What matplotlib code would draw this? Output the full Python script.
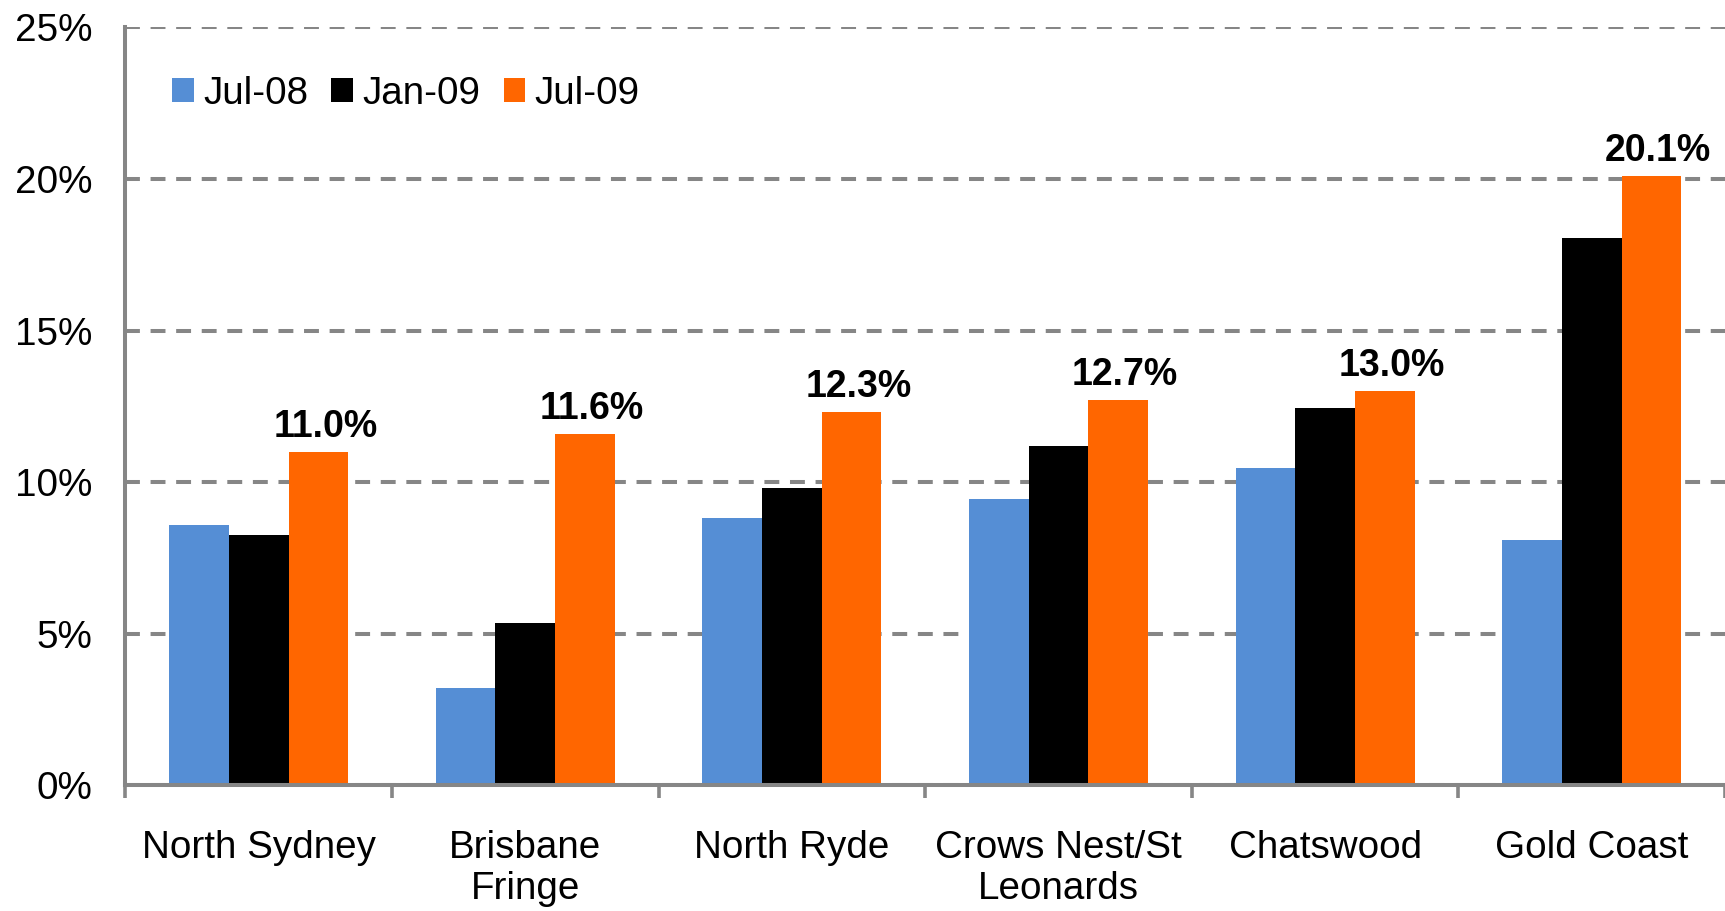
import matplotlib
matplotlib.use("Agg")
import matplotlib.pyplot as plt
import numpy as np

categories = ["North Sydney", "Brisbane\nFringe", "North Ryde", "Crows Nest/St\nLeonards", "Chatswood", "Gold Coast"]
series_names = ["Jul-08", "Jan-09", "Jul-09"]
jul08 = [8.6, 3.2, 8.8, 9.45, 10.45, 8.1]
jan09 = [8.25, 5.35, 9.8, 11.2, 12.45, 18.05]
jul09 = [11.0, 11.6, 12.3, 12.7, 13.0, 20.1]
colors = ["#558ED5", "#000000", "#FF6600"]
yticks = [0, 5, 10, 15, 20, 25]
ytick_labels = ["0%", "5%", "10%", "15%", "20%", "25%"]

plt.rcParams['font.family'] = ['Liberation Sans', 'DejaVu Sans']
fig = plt.figure(figsize=(17.25, 9.11), dpi=100)
ax = fig.add_axes([0.0727, 0.138, 0.9273, 0.832])

x = np.arange(len(categories))
w = 0.224
grey = "#868686"
fs = 27.8
for i, (vals, c, name) in enumerate(zip([jul08, jan09, jul09], colors, series_names)):
    ax.bar(x + (i - 1) * w, vals, width=w, color=c, label=name, zorder=3)

for xi, v in zip(x + w, jul09):
    ax.annotate(f"{v:.1f}%", (xi, v), xytext=(5, 5), textcoords="offset points",
                ha="center", va="bottom", fontsize=27, fontweight="bold", zorder=4)

ax.set_xlim(-0.5, len(categories) - 0.5)
ax.set_ylim(0, 25)
ax.set_yticks(yticks)
ax.set_yticklabels(ytick_labels, fontsize=fs)
ax.tick_params(axis='y', length=0, pad=24)

ax.set_xticks(np.arange(len(categories) + 1) - 0.5)
ax.set_xticklabels([])
ax.set_xticks(x, minor=True)
ax.set_xticklabels(categories, minor=True, fontsize=fs, linespacing=1.2)
ax.tick_params(axis='x', which='major', length=9, width=2.6, color=grey, direction='out')
ax.tick_params(axis='x', which='minor', length=0, pad=32)

ax.yaxis.grid(True, color=grey, linewidth=2.9, linestyle=(0, (3.7, 2.65)), zorder=0)
ax.set_axisbelow(True)
for s in ["top", "right"]:
    ax.spines[s].set_visible(False)
for s in ["left", "bottom"]:
    ax.spines[s].set_color(grey)
    ax.spines[s].set_linewidth(2.9)
ax.spines["bottom"].set_zorder(5)

ax.legend(loc="upper left", bbox_to_anchor=(0.0125, 0.972), ncol=3, frameon=False,
          fontsize=fs, handlelength=0.55, handleheight=0.55, handletextpad=0.25,
          columnspacing=0.6, borderpad=0.2)

fig.savefig("out.png", dpi=100)
